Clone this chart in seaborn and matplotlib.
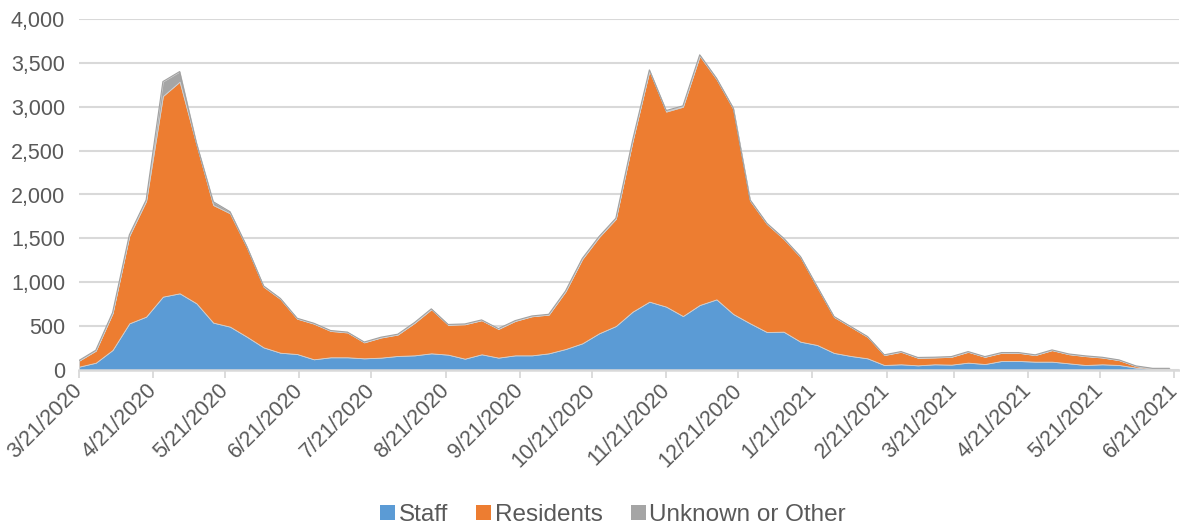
import numpy as np
import pandas as pd
import matplotlib
matplotlib.use("Agg")
import matplotlib.pyplot as plt
import matplotlib.dates as mdates
import matplotlib.transforms as mtransforms
from matplotlib.patches import Patch
import seaborn as sns

# ---- data (weekly, starting 3/21/2020) ----
start_date = "2020-03-21"
staff = [38, 83, 228, 532, 608, 836, 874, 760, 540, 494,
         380, 258, 197, 182, 122, 145, 145, 133, 141, 160,
         167, 190, 175, 129, 179, 141, 167, 167, 190, 239,
         304, 418, 501, 665, 779, 722, 615, 741, 805, 638,
         532, 433, 437, 323, 285, 195, 160, 133, 57, 65,
         53, 65, 61, 84, 68, 103, 103, 95, 95, 76,
         57, 65, 57, 27, 11, 10]
residents = [68, 137, 418, 998, 1317, 2286, 2412, 1810, 1340, 1292,
             1020, 692, 613, 403, 406, 300, 283, 182, 229, 244,
             370, 502, 340, 392, 388, 327, 392, 445, 441, 656,
             961, 1097, 1221, 1945, 2631, 2223, 2385, 2839, 2510, 2337,
             1398, 1232, 1058, 965, 660, 410, 332, 245, 113, 142,
             87, 78, 89, 123, 82, 93, 93, 75, 131, 104,
             101, 77, 55, 18, 7, 8]
unknown = [3, 5, 8, 10, 12, 165, 115, 15, 38, 18,
           8, 8, 6, 5, 5, 5, 4, 4, 4, 4,
           4, 5, 4, 4, 4, 4, 4, 4, 4, 5,
           6, 6, 7, 10, 10, 12, 10, 12, 10, 10,
           10, 8, 7, 6, 6, 5, 4, 4, 3, 3,
           3, 3, 3, 3, 3, 3, 3, 3, 3, 3,
           3, 3, 3, 2, 1, 1]
series_names = ["Staff", "Residents", "Unknown or Other"]
tick_dates = ["2020-03-21", "2020-04-21", "2020-05-21", "2020-06-21", "2020-07-21",
              "2020-08-21", "2020-09-21", "2020-10-21", "2020-11-21", "2020-12-21",
              "2021-01-21", "2021-02-21", "2021-03-21", "2021-04-21", "2021-05-21",
              "2021-06-21"]
y_ticks = [0, 500, 1000, 1500, 2000, 2500, 3000, 3500, 4000]

colors = ["#5B9BD5", "#ED7D31", "#A5A5A5"]

dates = pd.date_range(start_date, periods=len(staff), freq="7D")
df = pd.DataFrame({"date": dates, "Staff": staff, "Residents": residents,
                   "Unknown or Other": unknown})

sns.set_theme(style="white")
plt.rcParams['font.family'] = ['Liberation Sans', 'DejaVu Sans']

fig = plt.figure(figsize=(11.8, 5.26), dpi=100)
ax = fig.add_axes([79 / 1180, 1 - 370 / 526, 1100 / 1180, 351 / 526])

x = mdates.date2num(df["date"])
ys = np.vstack([df[n].values for n in series_names])
ax.stackplot(x, ys, colors=colors, edgecolor="#d0d0d0", linewidth=0.6, zorder=3)

# top boundary drawn with seaborn
cum = np.cumsum(ys, axis=0)
sns.lineplot(x=x, y=cum[2], ax=ax, color="#a0a0a0", linewidth=0.8, zorder=4)

ax.set_ylim(0, 4000)
ax.set_yticks(y_ticks)
ax.set_yticklabels([f"{v:,}" for v in y_ticks])
ax.yaxis.grid(True, color="#d9d9d9", linewidth=1.5, zorder=0)
ax.set_axisbelow(True)

td = pd.to_datetime(tick_dates)
tick_nums = mdates.date2num(td)
ax.set_xlim(tick_nums[0], mdates.date2num(pd.Timestamp("2021-06-23")))
ax.set_xticks(tick_nums)
ax.set_xticklabels([])
label_trans = (mtransforms.blended_transform_factory(ax.transData, ax.transAxes)
               + mtransforms.ScaledTranslation(-7 / 100, -10 / 100, fig.dpi_scale_trans))
for xn, d in zip(tick_nums, td):
    ax.text(xn, 0, f"{d.month}/{d.day}/{d.year}", transform=label_trans,
            rotation=45, ha="right", va="top", rotation_mode="anchor",
            fontsize=15.5, color="#595959", clip_on=False)

for s in ["top", "right", "left"]:
    ax.spines[s].set_visible(False)
ax.spines["bottom"].set_color("#d9d9d9")
ax.spines["bottom"].set_linewidth(1.8)
ax.spines["bottom"].set_zorder(5)
ax.tick_params(axis="x", which="both", length=6, width=1.3, color="#d9d9d9",
               bottom=True, direction="out")
ax.tick_params(axis="y", length=0, labelsize=15.5, labelcolor="#595959", pad=10)
ax.set_xlabel("")
ax.set_ylabel("")

handles = [Patch(facecolor=c, edgecolor="none") for c in colors]
fig.legend(handles, series_names, loc="center", bbox_to_anchor=(613 / 1180, 1 - 515 / 526),
           ncol=3, frameon=False, fontsize=17.5, labelcolor="#595959",
           handlelength=0.62, handleheight=0.62, handletextpad=0.15, columnspacing=1.15,
           borderpad=0.0)

fig.savefig("out.png", dpi=100)
